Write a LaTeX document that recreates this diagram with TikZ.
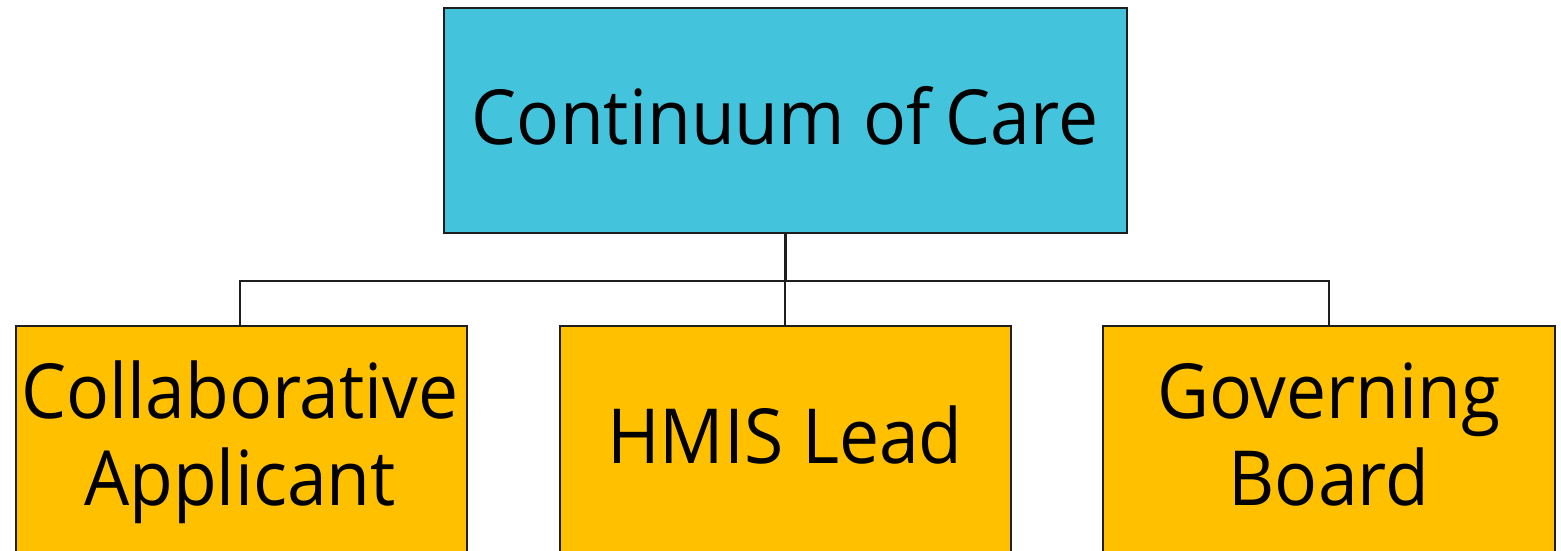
\documentclass[tikz,border=0pt]{standalone}
\usepackage{fontspec}
\setmainfont{Open Sans}[FakeStretch=0.94]
\definecolor{cocblue}{HTML}{44C3DD}
\definecolor{cocgold}{HTML}{FFC000}
\definecolor{edge}{HTML}{1E1E1E}
\begin{document}
\begin{tikzpicture}[x=1pt,y=-1pt,
  box/.style={draw=edge,line width=2.4pt,rectangle,inner sep=0pt},
  lbl/.style={font=\fontsize{76}{87}\selectfont,align=center,inner sep=0pt,text=black},
  conn/.style={draw=edge,line width=2.2pt}]
\useasboundingbox (0,0) rectangle (1561,551);
\clip (0,0) rectangle (1561,551);
\node[box,fill=cocblue,minimum width=683pt,minimum height=225pt] (coc) at (785.5,120.5) {};
\node[box,fill=cocgold,minimum width=451pt,minimum height=250pt] (ca) at (241.5,451) {};
\node[box,fill=cocgold,minimum width=451pt,minimum height=250pt] (hmis) at (785.5,451) {};
\node[box,fill=cocgold,minimum width=452pt,minimum height=250pt] (gb) at (1329,451) {};
\coordinate (j) at (785,281);
\draw[conn,line width=3pt] (coc.south -| j) -- (j);
\draw[conn] (ca.north -| 240,0) |- (j) -| (gb.north -| 1329,0);
\draw[conn] (j) -- (hmis.north -| j);
\node[lbl,anchor=base] (coct) at (785,144) {Continuum of\hspace{-4pt} Care};
\node[lbl,anchor=base] (cat) at (240,505) {Collaborative\\Applicant};
\node[lbl,anchor=base] (hmist) at (785,463) {HMIS Lead};
\node[lbl,anchor=base] (gbt) at (1329,505) {Governing\\Board};
\end{tikzpicture}
\end{document}
